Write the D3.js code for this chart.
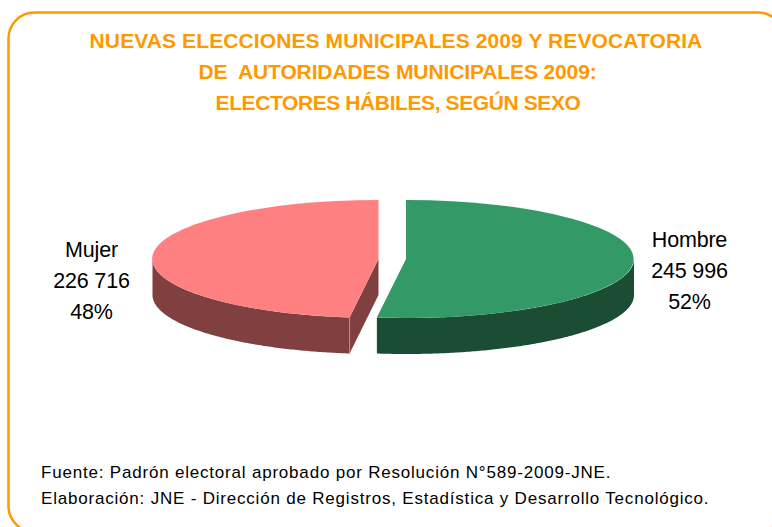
<!DOCTYPE html>
<html><head><meta charset="utf-8">
<script src="https://cdn.jsdelivr.net/npm/d3@7"></script>
<style>html,body{margin:0;padding:0;background:#fff;overflow:hidden}svg{display:block}text{font-family:"Liberation Sans",Arial,sans-serif}</style>
</head><body><svg id="c" width="772" height="527"></svg>
<script>
const categories = ["Hombre","Mujer"];
const values = [245996,226716];
const valueLabels = ["245 996","226 716"];
const percentLabels = ["52%","48%"];
const titleLines = ["NUEVAS ELECCIONES MUNICIPALES 2009 Y REVOCATORIA","DE  AUTORIDADES MUNICIPALES 2009:","ELECTORES HÁBILES, SEGÚN SEXO"];
const footLines = ["Fuente: Padrón electoral aprobado por Resolución N°589-2009-JNE.","Elaboración: JNE - Dirección de Registros, Estadística y Desarrollo Tecnológico."];
const topColors = ["#339966","#FF8080"];
const sideColors = ["#1A4D33","#804040"];

const svg = d3.select("#c");
svg.append("rect").attr("x",8.5).attr("y",12.5).attr("width",775.5).attr("height",519.5)
  .attr("rx",26).attr("ry",26).attr("fill","none").attr("stroke","#FF9900").attr("stroke-width",2.5);

const titleX=[396,397.5,398], titleSpacing=[0.1,-0.12,-0.4];
svg.append("g").selectAll("text").data(titleLines).join("text")
  .attr("x",(d,i)=>titleX[i]).attr("y",(d,i)=>47.5+i*31).attr("text-anchor","middle")
  .attr("font-size",21).attr("font-weight","bold").attr("fill","#FF9900")
  .attr("letter-spacing",(d,i)=>titleSpacing[i])
  .attr("xml:space","preserve").style("white-space","pre").text(d=>d);

const pie = d3.pie().sort(null)(values);
const centers = [406,378.5], cy = 259, rx = [228,226], ry = 59, depth = 36;
const px = (i,a)=>centers[i]+rx[i]*Math.sin(a), py=(a,o=0)=>cy-ry*Math.cos(a)+o;
const arc = d3.arc().innerRadius(0).outerRadius(1);
const g = svg.append("g");

pie.forEach((p,i)=>{
  // curved outer wall: the front half of the rim only
  const a0=Math.max(p.startAngle,Math.PI/2), a1=Math.min(p.endAngle,3*Math.PI/2);
  const ts=d3.range(a0,a1,0.01).concat([a1]);
  const rim=d3.area().x(a=>px(i,a)).y0(a=>py(a)).y1(a=>py(a,depth));
  g.append("path").attr("d",rim(ts)).attr("fill",sideColors[i]);
});
// inner cut wall of the Mujer slice, seen through the gap
const m=pie[1];
g.append("path").attr("d",d3.line()([[centers[1],cy],[px(1,m.startAngle),py(m.startAngle)],[px(1,m.startAngle),py(m.startAngle,depth)],[centers[1],cy+depth]])).attr("fill",sideColors[1]);
g.append("path").attr("d",d3.line()([[px(1,m.startAngle),py(m.startAngle)],[px(1,m.startAngle),py(m.startAngle,depth)]])).attr("stroke","#b09090").attr("stroke-width",1);

pie.forEach((p,i)=>{
  g.append("path").attr("d",arc(p)).attr("fill",topColors[i])
   .attr("transform",`translate(${centers[i]},${cy}) scale(${rx[i]},${ry})`);
});

const labelX=[689.5,91.5], labelY=[247,257];
categories.forEach((c,i)=>{
  svg.append("g").selectAll("text").data([c,valueLabels[i],percentLabels[i]]).join("text")
   .attr("x",labelX[i]).attr("y",(d,j)=>labelY[i]+j*31).attr("text-anchor","middle")
   .attr("font-size",21.5).attr("letter-spacing",-0.2).attr("fill","#000").text(d=>d);
});
svg.append("g").selectAll("text").data(footLines).join("text")
  .attr("x",41).attr("y",(d,i)=>478+i*26).attr("font-size",17).attr("letter-spacing",0.8).attr("fill","#000").text(d=>d);
</script></body></html>
